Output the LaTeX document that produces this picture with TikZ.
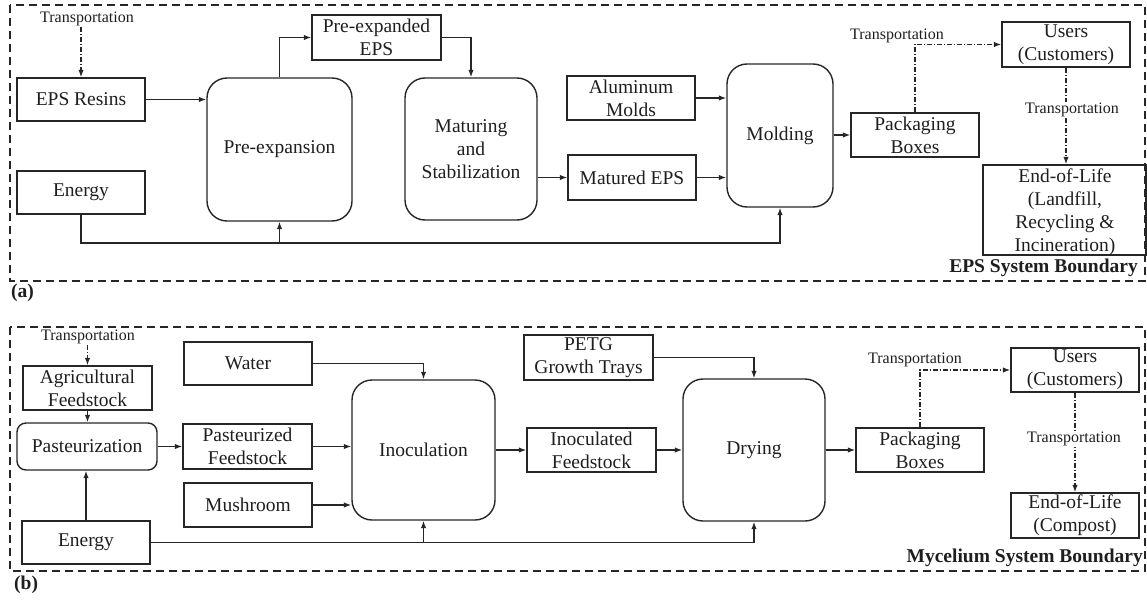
\documentclass[tikz,border=0pt]{standalone}
\usepackage{fontspec}
\setmainfont{Liberation Serif}
\usetikzlibrary{arrows.meta,calc}
\definecolor{linec}{HTML}{262626}
\definecolor{textc}{HTML}{1E1E1E}
\newcommand{\mainf}{\fontsize{19.5}{23}\selectfont}
\newcommand{\smallf}{\fontsize{16}{18}\selectfont}
\newcommand{\boldf}{\fontsize{19.5}{22.5}\selectfont\bfseries}
\begin{document}
\begin{tikzpicture}[x=1pt,y=-1pt,
  box/.style={draw=linec, line width=1.4pt, inner sep=0pt, align=center, text=textc, font=\mainf},
  rbox/.style={box, rounded corners=20pt},
  sbox/.style={box, rounded corners=9pt},
  arr/.style={draw=linec, line width=1.4pt, -{Latex[length=7.5pt,width=5.5pt]}},
  ddarr/.style={arr, dash pattern=on 5pt off 2pt on 1pt off 2pt},
  bound/.style={draw=linec, line width=1.4pt, dash pattern=on 8pt off 5pt},
  tlabel/.style={font=\smallf, text=textc, inner sep=1pt},
  blabel/.style={font=\boldf, text=textc, inner sep=0pt}
]
\useasboundingbox (0,0) rectangle (1147,602);

% ---------------- (a) ----------------
\draw[bound] (10,5) rectangle (1145,281);
\node[blabel, anchor=west] (la) at (11,293) {(a)};
\node[blabel, anchor=east] (ba) at (1138,268) {EPS System Boundary};

\node[box, minimum width=128, minimum height=43] (resins) at (81,99.5) {EPS Resins};
\node[box, minimum width=128, minimum height=43] (energyA) at (81,192.5) {Energy};
\node[rbox, minimum width=145, minimum height=143] (preexp) at (279.5,149.5) {Pre-expansion};
\node[box, minimum width=129, minimum height=45] (preexpd) at (376.5,37.5) {Pre-expanded\\EPS};
\node[rbox, minimum width=132, minimum height=142] (mature) at (471,149) {Maturing\\and\\Stabilization};
\node[box, minimum width=128, minimum height=44] (alum) at (631,98) {Aluminum\\Molds};
\node[box, minimum width=128, minimum height=45] (matured) at (632,177.5) {Matured EPS};
\node[rbox, minimum width=106, minimum height=143] (molding) at (780,135.5) {Molding};
\node[box, minimum width=128, minimum height=44] (packA) at (915,135) {Packaging\\Boxes};
\node[box, minimum width=128, minimum height=45] (usersA) at (1066,44.5) {Users\\(Customers)};
\node[box, minimum width=163, minimum height=90] (eolA) at (1064.5,210) {};
\node[font=\mainf, text=textc, align=center, inner sep=0pt] (eolAt) at (1065,212.5) {End-of-Life\\(Landfill,\\Recycling \&\\Incineration)};

\node[tlabel] (tA1) at (87,19) {Transportation};
\coordinate (tA1s) at (81,27);
\draw[ddarr] (tA1s) -- (resins.north);
\draw[arr] (resins.east) -- (preexp.west |- resins.east);
\draw[arr] (preexp.north) |- (preexpd.west);
\draw[arr] (preexpd.east) -| (mature.north);
\draw[arr] (mature.east |- matured.west) -- (matured.west);
\draw[arr] (alum.east) -- (alum.east -| molding.west);
\draw[arr] (matured.east) -- (matured.east -| molding.west);
\coordinate (eA) at (81,243);
\draw[arr] (energyA.south) -- (eA) -| (molding.south);
\draw[arr] (eA -| preexp.south) -- (preexp.south);
\draw[arr] (molding.east |- packA.west) -- (packA.west);
\draw[ddarr] (packA.north) |- (usersA.west);
\node[tlabel] (tA2) at (897,36) {Transportation};
\draw[ddarr] (usersA.south) -- (usersA.south |- eolA.north);
\node[tlabel, fill=white] (tA3) at (1072,110) {Transportation};

% ---------------- (b) ----------------
\draw[bound] (10,327) rectangle (1145,571);
\node[blabel, anchor=west] (lb) at (14,585) {(b)};
\node[blabel, anchor=east] (bb) at (1143,558) {Mycelium System Boundary};

\node[box, minimum width=129, minimum height=44] (agri) at (87.5,388) {Agricultural\\Feedstock};
\node[sbox, minimum width=140, minimum height=47] (past) at (87,446.5) {Pasteurization};
\node[box, minimum width=128, minimum height=43] (energyB) at (86,542.5) {Energy};
\node[box, minimum width=128, minimum height=43] (water) at (248,363.5) {Water};
\node[box, minimum width=129, minimum height=45] (pastfs) at (247.5,446.5) {Pasteurized\\Feedstock};
\node[box, minimum width=128, minimum height=44] (mush) at (248,505) {Mushroom};
\node[rbox, minimum width=143, minimum height=140] (inoc) at (423.5,450) {Inoculation};
\node[box, minimum width=129, minimum height=44] (inocfs) at (591.5,450) {Inoculated\\Feedstock};
\node[box, minimum width=129, minimum height=45] (petg) at (588.5,357.5) {PETG\\Growth Trays};
\node[rbox, minimum width=142, minimum height=142] (drying) at (754,450) {Drying};
\node[box, minimum width=128, minimum height=44] (packB) at (920,450) {Packaging\\Boxes};
\node[box, minimum width=128, minimum height=44] (usersB) at (1075,370) {Users\\(Customers)};
\node[box, minimum width=128, minimum height=45] (eolB) at (1075,515.5) {End-of-Life\\(Compost)};

\node[tlabel] (tB1) at (88,337) {Transportation};
\coordinate (tB1s) at (87.5,345);
\draw[ddarr] (tB1s) -- (agri.north);
\draw[arr] (agri.south) -- (agri.south |- past.north);
\draw[arr] (energyB.north) -- (energyB.north |- past.south);
\draw[arr] (past.east) -- (pastfs.west |- past.east);
\draw[arr] (water.east) -| (inoc.north);
\draw[arr] (pastfs.east) -- (inoc.west |- pastfs.east);
\draw[arr] (mush.east) -- (mush.east -| inoc.west);
\draw[arr] (energyB.east) -| (drying.south);
\draw[arr] (energyB.east -| inoc.south) -- (inoc.south);
\draw[arr] (inoc.east) -- (inocfs.west);
\draw[arr] (inocfs.east) -- (drying.west);
\draw[arr] (petg.east) -| (drying.north);
\draw[arr] (drying.east) -- (packB.west);
\draw[ddarr] (packB.north) |- (usersB.west);
\node[tlabel] (tB2) at (915,360) {Transportation};
\draw[ddarr] (usersB.south) -- (eolB.north);
\node[tlabel, fill=white] (tB3) at (1074,439) {Transportation};
\end{tikzpicture}
\end{document}
